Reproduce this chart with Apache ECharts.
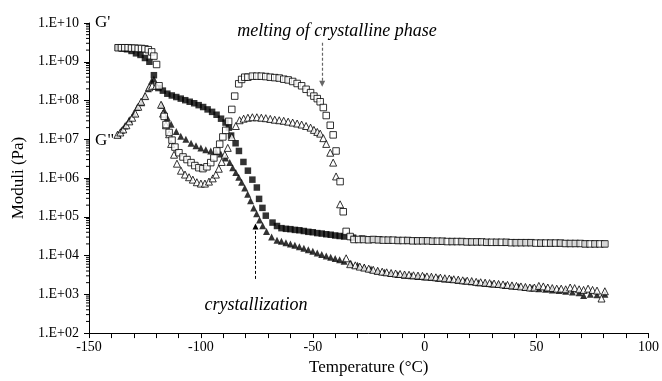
<!DOCTYPE html>
<html>
<head>
<meta charset="utf-8">
<script src="https://cdn.jsdelivr.net/npm/echarts@6/dist/echarts.min.js"></script>
<style>html,body{margin:0;padding:0;background:#fff}#c{width:662px;height:381px}</style>
</head>
<body>
<div id="c"></div>
<script>
// Tick labels
const xTicks = [-150, -100, -50, 0, 50, 100];
const yDecades = [2, 3, 4, 5, 6, 7, 8, 9, 10];
const minorMultipliers = [2, 3, 4, 5, 6, 7, 8, 9];

// G' (filled squares)
const fsTemp = [-137,-135,-133,-131,-129,-127,-125,-123,-121,-119,-117,-115,-113,-111,-109,-107,-105,-103,-101,-99,-97,-95,-93,-91,-89,
  -87.5,-86.5,-84.5,-83,-81,-79,-77,-75,-74,-72.5,-71,-68,
  -66,-64,-62,-60,-58,-56,-54,-52,-50,-48,-46,-44,-42,-40,-38,-36,
  -32,-28,-24,-20,-16,-12,-8,-4,0,4,8,12,16,20,24,28,32,36,40,44,47,52,56,60,64,68,72,76,80];
const fsMod = [2.3e9,2.2e9,2.1e9,1.9e9,1.65e9,1.5e9,1.25e9,1.0e9,4.5e8,2.1e8,1.8e8,1.5e8,1.35e8,1.23e8,1.12e8,1.02e8,9.3e7,8.5e7,7.6e7,6.8e7,5.9e7,5.1e7,4.3e7,3.4e7,2.7e7,
  2.0e7,1.25e7,7.9e6,5.0e6,2.6e6,1.55e6,9.1e5,5.7e5,2.9e5,1.7e5,1.07e5,7.1e4,
  5.8e4,5.1e4,4.9e4,4.8e4,4.6e4,4.5e4,4.3e4,4.1e4,4.0e4,3.8e4,3.7e4,3.55e4,3.45e4,3.3e4,3.2e4,3.1e4,
  2.9e4,2.75e4,2.6e4,2.55e4,2.5e4,2.45e4,2.45e4,2.4e4,2.4e4,2.35e4,2.35e4,2.3e4,2.3e4,2.25e4,2.25e4,2.2e4,2.2e4,2.2e4,2.15e4,2.15e4,2.15e4,2.1e4,2.1e4,2.1e4,2.05e4,2.05e4,2.0e4,2.0e4,2.0e4];

// G'' (filled triangles)
const ftTemp = [-137,-135.5,-134,-132,-130,-128.5,-126.5,-125,-123.5,-122,-121,
  -117.5,-116.4,-115,-113.3,-111,-109,-106.7,-104.4,-102.2,-100,
  -97.8,-95.6,-93.3,-91.1,-89,-87.1,-85.8,-84.4,-83.1,-81.8,
  -80.4,-79.1,-77.8,-76.4,-75.1,-73.8,-72.4,-70.7,-68.4,
  -66,-64,-62,-60,-58,-56,-54,-52,-50,-48,-46,-44,-42,-40,-38,-36,
  -33,-30,-27,-24,-21,-18,-15,-12,-9,-6,-3,0,3,6,9,12,15,18,21,24,27,30,33,36,39,42,45,48,51,54,57,60,63,66,69,
  71,74,77,80.5];
const ftMod = [1.35e7,1.7e7,2.2e7,3.2e7,4.6e7,6.6e7,8.7e7,1.3e8,2.0e8,3.2e8,3.6e8,
  7.5e7,5.5e7,3.6e7,2.45e7,1.6e7,1.2e7,1.0e7,7.9e6,6.8e6,6.0e6,
  5.4e6,5.0e6,4.8e6,4.2e6,3.3e6,2.5e6,1.85e6,1.4e6,1.05e6,7.8e5,
  5.5e5,3.8e5,2.6e5,1.7e5,1.2e5,8.3e4,5.9e4,4.2e4,3.0e4,
  2.5e4,2.35e4,2.15e4,2.0e4,1.85e4,1.7e4,1.55e4,1.42e4,1.3e4,1.17e4,1.07e4,9.8e3,9.0e3,8.4e3,7.8e3,7.1e3,
  6.3e3,5.6e3,5.0e3,4.5e3,4.0e3,3.7e3,3.45e3,3.25e3,3.1e3,3.0e3,2.9e3,2.8e3,2.7e3,2.6e3,2.5e3,2.4e3,2.3e3,2.2e3,2.1e3,2.0e3,1.9e3,1.85e3,1.8e3,1.7e3,1.65e3,1.6e3,1.5e3,1.45e3,1.4e3,1.35e3,1.3e3,1.25e3,1.2e3,1.15e3,1.1e3,
  9.4e2,1.0e3,9.8e2,1.0e3];

// G' (open squares)
const osTemp = [-137,-135.5,-134,-132.5,-131,-129.5,-128,-126.5,-125,-123.5,
  -122,-121,-119.8,-118.7,-116.4,-115.6,-114.2,-112.9,-111.6,-109.8,
  -108,-106.2,-104.4,-102.7,-100.9,-99.1,-97.3,-95.6,-94.2,-92.9,
  -91.6,-90.2,-88.9,-87.6,-86.2,-84.9,-83.1,-81.8,-80.4,-79,
  -77,-75,-73,-71,-69,-67,-65,-63,-61,-59,
  -57,-55,-53,-51,-49.5,-48,-46.7,-45.3,-44,-42.2,
  -40.9,-39.6,-37.8,-36.4,-35.1,-33.3,-31.6,
  -29.5,-27.3,-25.1,-22.9,-20.7,-18.5,-16.3,-14.1,-11.9,-9.7,-7.5,-5.3,-3.1,-0.9,1.3,3.5,5.7,7.9,10.1,12.3,14.5,16.7,18.9,21.1,23.3,25.5,27.7,29.9,32.1,34.3,36.5,38.7,40.9,43.1,45.3,47.5,49.7,51.9,54.1,56.3,58.5,60.7,62.9,65.1,67.3,69.5,71.7,73.9,76.1,78.3,80.5];
const osMod = [2.3e9,2.3e9,2.3e9,2.3e9,2.25e9,2.25e9,2.2e9,2.2e9,2.15e9,2.05e9,
  1.8e9,1.4e9,8.5e8,2.4e8,3.9e7,2.4e7,1.5e7,9.5e6,6.3e6,4.5e6,
  3.5e6,3.0e6,2.5e6,2.1e6,1.85e6,1.75e6,1.95e6,2.5e6,3.3e6,5.0e6,
  7.5e6,1.15e7,1.7e7,2.9e7,5.9e7,1.3e8,2.7e8,3.5e8,4.0e8,4.0e8,
  4.25e8,4.25e8,4.25e8,4.15e8,4.0e8,3.9e8,3.8e8,3.55e8,3.4e8,3.1e8,
  2.75e8,2.4e8,1.95e8,1.6e8,1.3e8,1.12e8,9.3e7,6.6e7,4.1e7,2.3e7,
  1.3e7,5.0e6,8.1e5,1.35e5,4.2e4,3.1e4,2.6e4,
  2.6e4,2.6e4,2.55e4,2.6e4,2.55e4,2.5e4,2.5e4,2.5e4,2.45e4,2.45e4,2.45e4,2.4e4,2.4e4,2.4e4,2.4e4,2.35e4,2.35e4,2.35e4,2.3e4,2.3e4,2.3e4,2.3e4,2.25e4,2.25e4,2.25e4,2.25e4,2.2e4,2.2e4,2.2e4,2.2e4,2.2e4,2.15e4,2.15e4,2.15e4,2.15e4,2.15e4,2.1e4,2.1e4,2.1e4,2.1e4,2.1e4,2.1e4,2.05e4,2.05e4,2.05e4,2.05e4,2.0e4,2.0e4,2.0e4,2.0e4,2.0e4];

// G'' (open triangles)
const otTemp = [-137.3,-136,-134.7,-133.3,-132,-130.7,-129.3,-128,-126.7,-124.9,
  -123.1,-121.8,-120,-117.8,-116.9,-115.6,-114.2,-113.3,-112,-110.7,
  -108.9,-107.1,-105.3,-103.6,-101.8,-100,-98.2,-96.4,-94.7,-93.3,
  -92,-90.7,-89.3,-88,-86.2,-84.4,-82.7,-80.9,-79,-77,
  -75,-73,-71,-69,-67,-65,-63,-61,-59,-57,
  -55,-53,-51,-49.5,-48,-46.7,-45.3,-44,-42.2,-40.9,
  -39.6,-37.8,-35.1,-33.3,
  -31,-29,-27,-25,-23,-21,-19,-17,-15,-13,-11,-9,-7,-5,-3,-1,1,3,5,7,9,11,13,15,17,19,21,23,25,27,29,31,33,35,37,39,41,43,45,47,49,
  51,53,55,57,59,61,63,65,67,69,71,73,75,77,79,80.5];
const otMod = [1.3e7,1.5e7,1.8e7,2.3e7,2.9e7,3.6e7,4.6e7,6.9e7,9.3e7,1.3e8,
  2.2e8,2.4e8,2.4e8,7.8e7,4.6e7,2.3e7,1.35e7,7.6e6,4.0e6,2.35e6,
  1.55e6,1.23e6,1.05e6,9.1e5,7.8e5,7.2e5,7.2e5,8.1e5,9.8e5,1.23e6,
  1.74e6,2.6e6,4.0e6,6.0e6,1.15e7,2.2e7,3.1e7,3.4e7,3.6e7,3.7e7,
  3.7e7,3.6e7,3.5e7,3.35e7,3.2e7,3.1e7,3.0e7,2.85e7,2.7e7,2.55e7,
  2.4e7,2.2e7,2.0e7,1.75e7,1.55e7,1.4e7,1.07e7,7.6e6,4.5e6,2.5e6,
  1.1e6,2.1e5,8.5e3,6.0e3,
  5.6e3,5.2e3,4.9e3,4.6e3,4.3e3,4.05e3,3.85e3,3.7e3,3.55e3,3.45e3,3.35e3,3.25e3,3.2e3,3.1e3,3.05e3,3.0e3,2.9e3,2.85e3,2.75e3,2.7e3,2.6e3,2.55e3,2.45e3,2.4e3,2.3e3,2.25e3,2.2e3,2.1e3,2.05e3,2.0e3,1.95e3,1.9e3,1.85e3,1.8e3,1.75e3,1.7e3,1.65e3,1.6e3,1.55e3,1.5e3,1.5e3,
  1.65e3,1.6e3,1.5e3,1.45e3,1.4e3,1.4e3,1.35e3,1.5e3,1.45e3,1.35e3,1.3e3,1.4e3,1.3e3,1.25e3,7.8e2,1.2e3];

// Annotation positions (data space)
const meltingArrow = { temp: -45.8, from: 3.1e9, to: 2.7e8 };
const crystArrow = { temp: -75.6, from: 2.5e3, to: 5.6e4 };

const serif = "'Liberation Serif', 'Times New Roman', serif";
const zip = (t, v) => t.map((x, i) => [x, v[i]]);

const minorTickData = [];
yDecades.slice(0, -1).forEach(d => minorMultipliers.forEach(m => minorTickData.push([xTicks[0], m * Math.pow(10, d)])));

const chart = echarts.init(document.getElementById('c'), null, { renderer: 'canvas' });
chart.setOption({
  animation: false,
  backgroundColor: '#fff',
  grid: { left: 89, right: 10, top: 23, bottom: 43 },
  xAxis: {
    type: 'value', min: -150, max: 100, interval: 10,
    name: 'Temperature (\u00B0C)', nameLocation: 'middle', nameGap: 25,
    nameTextStyle: { fontFamily: serif, fontSize: 17, color: '#000' },
    axisLine: { onZero: false, lineStyle: { color: '#000', width: 1 } },
    axisTick: { show: true, length: 5, lineStyle: { color: '#000' } },
    axisLabel: { fontFamily: serif, fontSize: 14, color: '#000', margin: 7,
      formatter: v => (xTicks.indexOf(v) >= 0 ? String(v) : '') },
    splitLine: { show: false }
  },
  yAxis: {
    type: 'log', logBase: 10, min: 1e2, max: 1e10,
    name: 'Moduli (Pa)', nameLocation: 'middle', nameGap: 61,
    nameTextStyle: { fontFamily: serif, fontSize: 17, color: '#000' },
    axisLine: { show: true, onZero: false, lineStyle: { color: '#000', width: 1 } },
    axisTick: { show: true, length: 5, lineStyle: { color: '#000' } },
    axisLabel: { fontFamily: serif, fontSize: 14, color: '#000', margin: 10,
      formatter: v => { const e = Math.round(Math.log10(v)); return '1.E+' + (e < 10 ? '0' + e : String(e)); } },
    splitLine: { show: false }
  },
  series: [
    { type: 'custom', silent: true, clip: false, z: 1,
      data: minorTickData,
      renderItem: (params, api) => {
        const p = api.coord([api.value(0), api.value(1)]);
        return { type: 'line', shape: { x1: p[0] - 3, y1: p[1], x2: p[0], y2: p[1] }, style: { stroke: '#000', lineWidth: 1 } };
      } },
    { name: "G' cooling", type: 'scatter', symbol: 'rect', symbolSize: 6.5, data: zip(fsTemp, fsMod),
      itemStyle: { color: '#000' }, z: 2 },
    { name: "G'' cooling", type: 'scatter', symbol: 'triangle', symbolSize: 7, data: zip(ftTemp, ftMod),
      itemStyle: { color: '#000' }, z: 3 },
    { name: "G'' heating", type: 'scatter', symbol: 'triangle', symbolSize: 7, data: zip(otTemp, otMod),
      itemStyle: { color: '#fff', borderColor: '#000', borderWidth: 1 }, z: 4 },
    { name: "G' heating", type: 'scatter', symbol: 'rect', symbolSize: 6.5, data: zip(osTemp, osMod),
      itemStyle: { color: '#fff', borderColor: '#000', borderWidth: 1 }, z: 5 },
    { type: 'scatter', data: [], silent: true, z: 6,
      markLine: {
        silent: true, animation: false, label: { show: false },
        symbol: ['none', 'triangle'], symbolSize: [6, 6],
        data: [
          [{ coord: [meltingArrow.temp, meltingArrow.from], lineStyle: { color: '#666', type: [3, 2], width: 1.2 }, itemStyle: { color: '#000' } },
           { coord: [meltingArrow.temp, meltingArrow.to] }],
          [{ coord: [crystArrow.temp, crystArrow.from], lineStyle: { color: '#000', type: [3, 2], width: 1 }, itemStyle: { color: '#000' } },
           { coord: [crystArrow.temp, crystArrow.to] }]
        ]
      } }
  ],
  graphic: [
    { type: 'text', left: 95, top: 14, style: { text: "G'", font: '17px ' + serif, fill: '#000' } },
    { type: 'text', left: 95, top: 132, style: { text: 'G"', font: '17px ' + serif, fill: '#000' } },
    { type: 'text', x: 337, y: 31, style: { text: 'melting of crystalline phase', font: 'italic 18px ' + serif, fill: '#000', textAlign: 'center', textVerticalAlign: 'middle' } },
    { type: 'text', x: 256, y: 305, style: { text: 'crystallization', font: 'italic 18px ' + serif, fill: '#000', textAlign: 'center', textVerticalAlign: 'middle' } }
  ]
});
</script>
</body>
</html>
